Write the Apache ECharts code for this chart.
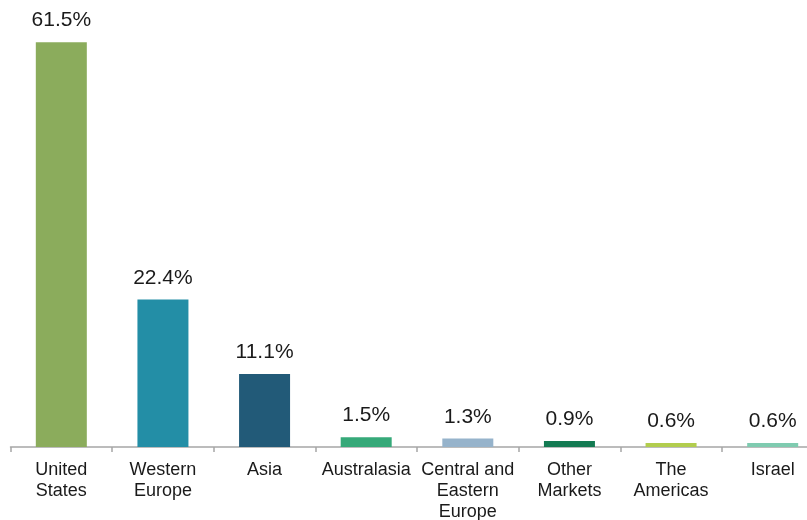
<!DOCTYPE html>
<html>
<head>
<meta charset="utf-8">
<script src="https://cdn.jsdelivr.net/npm/echarts@6/dist/echarts.min.js"></script>
<style>
  html, body { margin: 0; padding: 0; background: #fff; }
  #chart { width: 807px; height: 520px; }
</style>
</head>
<body>
<div id="chart"></div>
<script>
// Regional share of the total, in percent
const regions = ['United\nStates', 'Western\nEurope', 'Asia', 'Australasia', 'Central and\nEastern\nEurope', 'Other\nMarkets', 'The\nAmericas', 'Israel'];
const shares = [61.5, 22.4, 11.1, 1.5, 1.3, 0.9, 0.6, 0.6];
const barColors = ['#8BAC5C', '#238EA6', '#225A78', '#36A979', '#96B3CB', '#137A52', '#B2CD4E', '#7FCBB0'];

const chart = echarts.init(document.getElementById('chart'));
chart.setOption({
  animation: false,
  // plot area runs past the right edge of the canvas
  grid: { left: 10.5, width: 813, top: 0, height: 447, outerBoundsMode: 'none', containLabel: false },
  xAxis: {
    type: 'category',
    data: regions,
    axisLine: { lineStyle: { color: '#A6A6A6', width: 1.5 } },
    axisTick: { show: true, length: 5, lineStyle: { color: '#A6A6A6', width: 1.5 } },
    axisLabel: {
      interval: 0,
      color: '#1a1a1a',
      fontFamily: 'Liberation Sans, Arial, sans-serif',
      fontSize: 18,
      lineHeight: 21,
      margin: 13
    }
  },
  yAxis: {
    type: 'value',
    min: 0,
    max: 67.9,
    show: false,
    splitLine: { show: false }
  },
  series: [{
    type: 'bar',
    barWidth: 51,
    data: shares.map((v, i) => ({ value: v, itemStyle: { color: barColors[i] } })),
    label: {
      show: true,
      position: 'top',
      distance: 11,
      formatter: p => p.value.toFixed(1) + '%',
      color: '#1a1a1a',
      fontFamily: 'Liberation Sans, Arial, sans-serif',
      fontSize: 21
    }
  }]
});
</script>
</body>
</html>
